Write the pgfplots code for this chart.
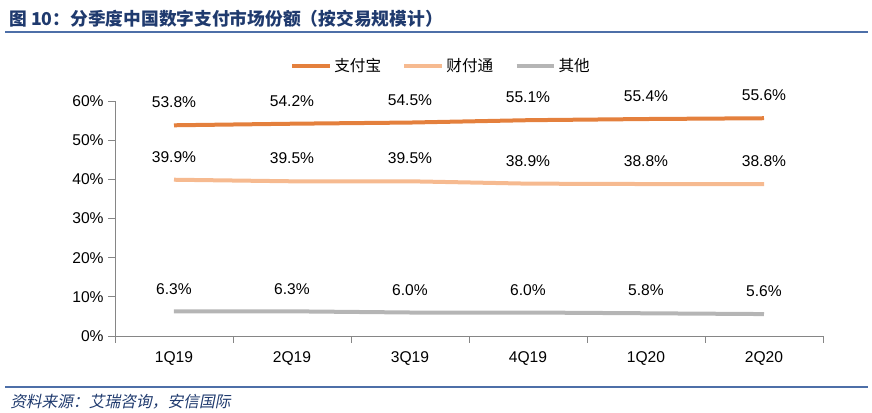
\documentclass[border=0pt]{standalone}
\usepackage{pgfplots}
\pgfplotsset{compat=1.18}
\usepackage{fontspec}
\setmainfont{Liberation Sans}
\newfontfamily\cjk{Noto Sans CJK SC}
\newfontfamily\cjkit{Noto Sans CJK SC}[FakeSlant=0.2]
\definecolor{c1}{HTML}{E4803D}
\definecolor{c2}{HTML}{F6BA90}
\definecolor{c3}{HTML}{B5B5B5}
\definecolor{titleblue}{HTML}{1F3A6E}
\definecolor{rulec}{HTML}{4D6FA8}
\definecolor{axisgray}{HTML}{868686}
\begin{document}
\begin{tikzpicture}[x=0.75pt,y=0.75pt]
\path (0,0) rectangle (872,412);
% title
\node[anchor=base west,inner sep=0pt,text=titleblue,font=\cjk\bfseries\fontsize{13.3}{15}\selectfont] at (9,412-25) {图 10：分季度中国数字支付市场份额（按交易规模计）};
\draw[rulec,line width=1.1pt] (5,412-32) -- (868,412-32);
% bottom rule and source
\draw[rulec,line width=1.1pt] (5,412-387) -- (868,412-387);
\node[anchor=base west,inner sep=0pt,text=titleblue,font=\cjkit\fontsize{11.8}{13}\selectfont] at (10,412-407) {资料来源：艾瑞咨询，安信国际};
\begin{axis}[
  at={(86.25pt,57pt)}, anchor=south west,
  scale only axis, width=531pt, height=176.25pt,
  xmin=-0.5, xmax=5.5, ymin=0, ymax=60,
  axis x line=bottom, axis y line=left,
  axis line style={-, axisgray, line width=0.6pt},
  xtick={0,...,5},
  xticklabels={1Q19,2Q19,3Q19,4Q19,1Q20,2Q20},
  minor xtick={-0.5,0.5,...,5.5},
  major x tick style={draw=none},
  minor tick length=5pt,
  ytick={0,10,...,60},
  major tick length=5pt,
  tick align=outside,
  tick style={axisgray, line width=0.6pt},
  yticklabel={\pgfmathprintnumber{\tick}\%},
  /pgf/number format/assume math mode=true,
  tick label style={font=\fontsize{11.7}{13}\selectfont, text=black},
  xticklabel style={yshift=-3.5pt},
  nodes near coords={\pgfmathprintnumber[fixed,precision=1,fixed zerofill]{\pgfplotspointmeta}\%},
  every node near coord/.append style={anchor=center, yshift=17pt, font=\fontsize{11.7}{13}\selectfont, text=black},
  clip=false,
  legend columns=3,
  legend style={at={(axis description cs:0.461,1.149)}, anchor=center, draw=none, fill=none,
    font=\cjk\fontsize{11.7}{13}\selectfont,
    /tikz/every even column/.append style={column sep=14pt}},
  legend image code/.code={\draw[#1] (0pt,0pt) -- (28pt,0pt);},
]
\addplot[c1, line width=3pt] coordinates {(0,53.8) (1,54.2) (2,54.5) (3,55.1) (4,55.4) (5,55.6)};
\addlegendentry{支付宝}
\addplot[c2, line width=3pt] coordinates {(0,39.9) (1,39.5) (2,39.5) (3,38.9) (4,38.8) (5,38.8)};
\addlegendentry{财付通}
\addplot[c3, line width=3pt] coordinates {(0,6.3) (1,6.3) (2,6.0) (3,6.0) (4,5.8) (5,5.6)};
\addlegendentry{其他}
\end{axis}
\end{tikzpicture}
\end{document}
